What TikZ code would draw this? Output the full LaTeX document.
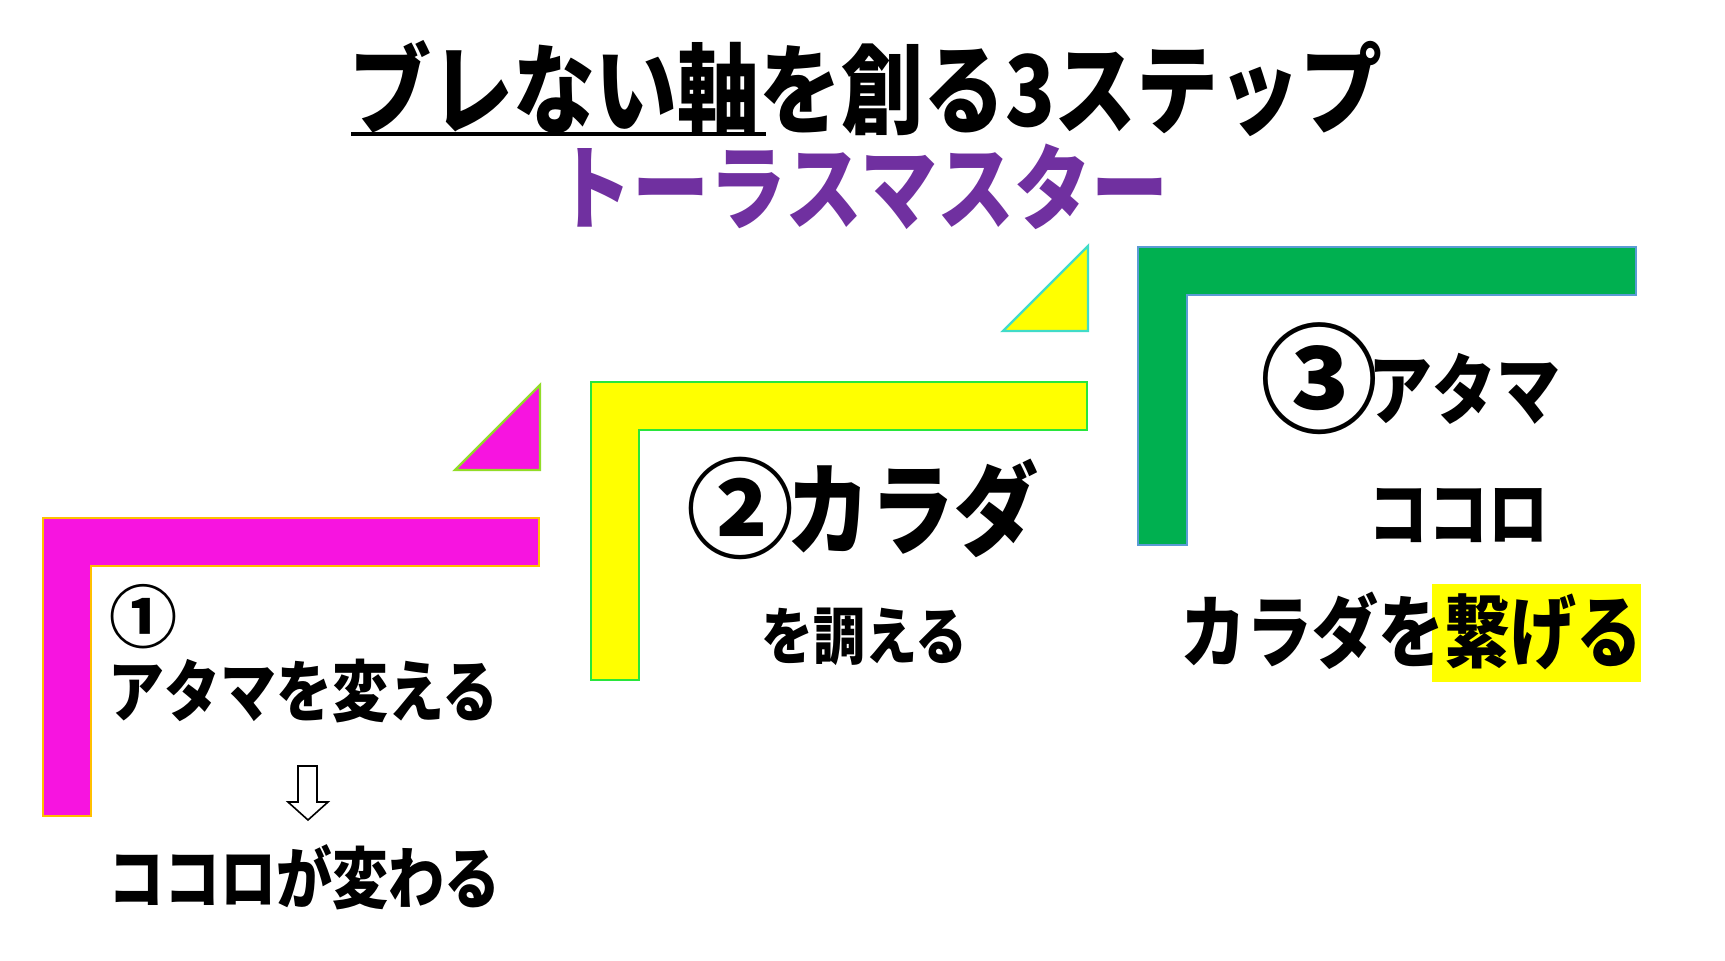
\documentclass[tikz,border=0pt]{standalone}
\usepackage{fontspec}
\usepackage{graphicx}
\newfontfamily\jpfont{Noto Sans CJK JP}
\definecolor{magL}{RGB}{247,20,224}
\definecolor{magO}{RGB}{255,192,0}
\definecolor{limeO}{RGB}{146,220,40}
\definecolor{yelL}{RGB}{255,255,0}
\definecolor{yelO}{RGB}{40,230,60}
\definecolor{turqO}{RGB}{64,220,200}
\definecolor{grnL}{RGB}{0,176,80}
\definecolor{grnO}{RGB}{91,155,213}
\definecolor{purp}{RGB}{112,48,160}
\newcommand{\tallt}[1]{\scalebox{1}[1.2]{#1}}
\newcommand{\fsz}[1]{\fontsize{#1}{#1}\selectfont}
\tikzset{
  txt/.style={inner sep=0pt, outer sep=0pt, anchor=base west, font=\jpfont\bfseries},
  lshape/.style={line width=1.2pt, line join=miter},
}
\begin{document}
\begin{tikzpicture}[x=0.5pt,y=-0.5pt]
\useasboundingbox (0,0) rectangle (1725,960);
\fill[white] (0,0) rectangle (1725,960);

% title
\node[txt, anchor=base] (title) at (866,126) {\fsz{41pt}\tallt{ブレない軸を創る3ステップ}};
\draw[line width=2pt] (351,134) -- (766,134);
\node[txt, anchor=base, text=purp] (sub) at (862,222) {\fsz{38.5pt}\tallt{トーラスマスター}};

% magenta step
\draw[lshape, fill=magL, draw=magO] (43,518) -- (539,518) -- (539,566) -- (91,566) -- (91,816) -- (43,816) -- cycle;
\draw[lshape, fill=magL, draw=limeO] (455,470) -- (540,470) -- (540,385) -- cycle;

% yellow step
\draw[lshape, fill=yelL, draw=yelO] (591,382) -- (1087,382) -- (1087,430) -- (639,430) -- (639,680) -- (591,680) -- cycle;
\draw[lshape, fill=yelL, draw=turqO] (1003,331) -- (1088,331) -- (1088,246) -- cycle;

% green step
\draw[lshape, fill=grnL, draw=grnO] (1138,247) -- (1636,247) -- (1636,295) -- (1187,295) -- (1187,545) -- (1138,545) -- cycle;

% highlight
\fill[yelL] (1432,584) rectangle (1641,682);

% texts step 1
\node[txt] (n1) at (109,642) {\fsz{34pt}①};
\node[txt] (t1a) at (108,716) {\fsz{28pt}\tallt{アタマを変える}};
\node[txt] (t1b) at (108,903) {\fsz{28pt}\tallt{ココロが変わる}};
\draw[line width=0.8pt, fill=white, line join=miter] (298,766) -- (317,766) -- (317,802) -- (328,802) -- (308,820) -- (288,802) -- (298,802) -- cycle;

% texts step 2
\node[txt] (n2) at (686,549) {\fsz{54pt}②};
\node[txt] (t2a) at (786,547) {\fsz{42pt}\tallt{カラダ}};
\node[txt] (t2b) at (761,659) {\fsz{26pt}\tallt{を調える}};

% texts step 3
\node[txt] (n3) at (1260,423) {\fsz{59pt}③};
\node[txt] (t3a) at (1368,418) {\fsz{32pt}\tallt{アタマ}};
\node[txt] (t3b) at (1368,540) {\fsz{30pt}\tallt{ココロ}};
\node[txt] (t3c) at (1180,661) {\fsz{33pt}\tallt{カラダを繋げる}};
\end{tikzpicture}
\end{document}
